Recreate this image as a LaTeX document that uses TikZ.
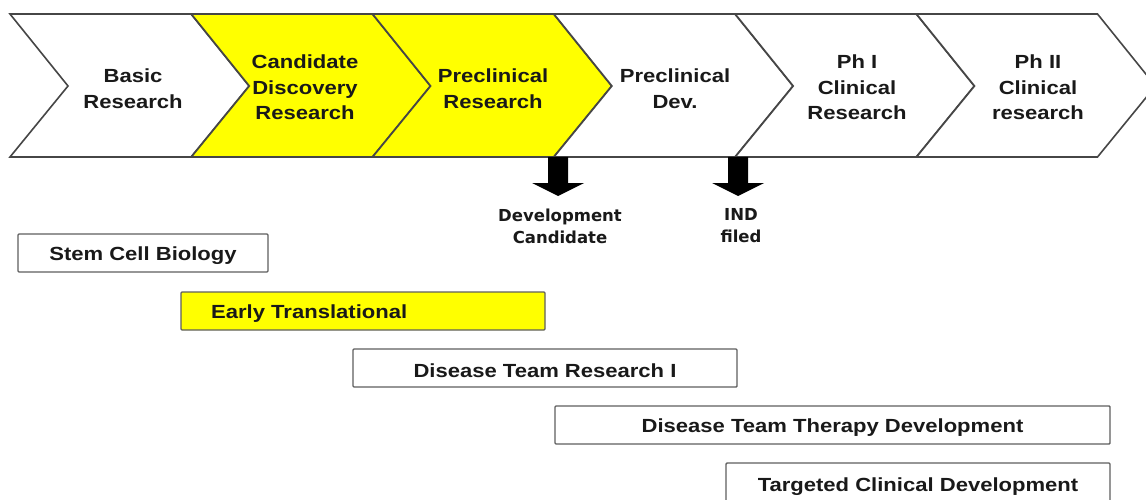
\documentclass[tikz,border=0pt]{standalone}
\usepackage{fontspec}
\setmainfont{Liberation Sans}[FakeStretch=1.16]
\newfontfamily\lblfont{DejaVu Sans}
\definecolor{edge}{RGB}{70,70,70}
\definecolor{baredge}{RGB}{95,95,95}
\definecolor{txt}{RGB}{25,25,25}
\definecolor{hl}{RGB}{255,255,0}
\begin{document}
\begin{tikzpicture}[x=1pt,y=-1pt,
  chev/.style={draw=edge, line width=1.6pt, line join=miter},
  ctext/.style={align=center, inner sep=0pt, text=txt, font=\fontsize{19}{25.5}\selectfont\bfseries},
  bar/.style={draw=baredge, line width=1.4pt, rounded corners=1pt, inner sep=0pt},
  btext/.style={inner sep=0pt, text=txt, font=\fontsize{19}{23}\selectfont\bfseries},
  ltext/.style={align=center, inner sep=0pt, text=txt, font=\lblfont\fontsize{16.5}{22}\selectfont\bfseries},
  blockarrow/.style={fill=black}]
\useasboundingbox (0,0) rectangle (1146,500);
\clip (0,0) rectangle (1146,500);
\fill[white] (0,0) rectangle (1146,500);
% chevrons
\foreach \i/\f in {0/white,1/hl,2/hl,3/white,4/white,5/white}{
  \pgfmathsetmacro{\xa}{10+181.3*\i}
  \draw[chev,fill=\f] (\xa,14) -- ++(181,0) -- ++(58,72) -- ++(-58,71) -- ++(-181,0) -- ++(58,-71) -- cycle;
}
\node[ctext] (basic) at (133,88.5) {Basic\\Research};
\node[ctext] (cand) at (305,87.5) {Candidate\\Discovery\\Research};
\node[ctext] (precr) at (493,88.5) {Preclinical\\Research};
\node[ctext] (precd) at (675,88.5) {Preclinical\\Dev.};
\node[ctext] (ph1) at (857,87.5) {Ph I\\Clinical\\Research};
\node[ctext] (ph2) at (1038,87.5) {Ph II\\Clinical\\research};
% milestone arrows
\coordinate (a1) at (558,157);
\coordinate (a2) at (738,157);
\node[ltext] (devc) at (560,226) {Development\\Candidate};
\node[ltext] (ind) at (741,226) {IND\\filed};
\fill[blockarrow] (a1) ++(-10,0) -- ++(20,0) -- ++(0,26) -- ++(16,0) -- ++(-26,13) -- ++(-26,-13) -- ++(16,0) -- cycle;
\fill[blockarrow] (a2) ++(-10,0) -- ++(20,0) -- ++(0,26) -- ++(16,0) -- ++(-26,13) -- ++(-26,-13) -- ++(16,0) -- cycle;
% bars
\node[bar, minimum width=250pt, minimum height=38pt] (stem) at (143,253) {};
\node[btext] (stemt) at (143,255.5) {Stem Cell Biology};
\node[bar, fill=hl, minimum width=364pt, minimum height=38pt] (early) at (363,311) {};
\node[btext, anchor=west] (earlyt) at (211,313.5) {Early Translational};
\node[bar, minimum width=384pt, minimum height=38pt] (dtr) at (545,368) {};
\node[btext] (dtrt) at (545,370.5) {Disease Team Research I};
\node[bar, minimum width=555pt, minimum height=38pt] (dtt) at (832.5,425) {};
\node[btext] (dttt) at (832.5,427.5) {Disease Team Therapy Development};
\node[bar, minimum width=384pt, minimum height=40pt] (tcd) at (918,483) {};
\node[btext] (tcdt) at (918,486.5) {Targeted Clinical Development};
\end{tikzpicture}
\end{document}
